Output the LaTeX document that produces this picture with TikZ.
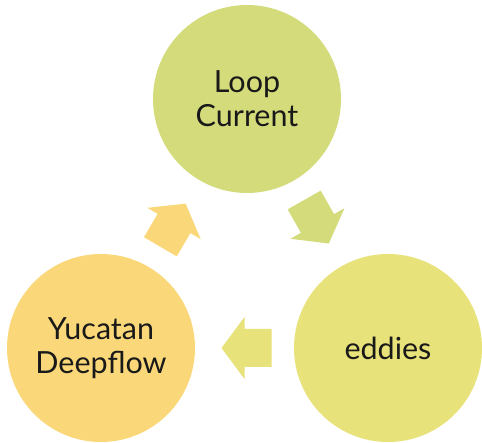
\documentclass[tikz,border=0pt]{standalone}
\usepackage{fontspec}
\setmainfont{Lato}
\usetikzlibrary{calc}
\definecolor{cTop}{RGB}{211,219,122}
\definecolor{cRight}{RGB}{232,226,122}
\definecolor{cLeft}{RGB}{250,216,122}
\tikzset{
  bubble/.style={circle, minimum size=188pt, inner sep=0pt, align=center,
    font=\fontsize{30.5}{34}\selectfont, text=black!90},
}
\newcommand\blkarrow[3]{%
  \coordinate (m) at ($(#2)!0.5!(#3)$);
  \coordinate (bk) at ($(m)!-27pt!(#3)$);
  \fill[#1] ($(m)!23pt!(#3)$)
    -- ($(m)!31pt!90:(#3)$)
    -- ($(m)!19pt!90:(#3)$)
    -- ($(bk)!19pt!90:(#3)$)
    -- ($(bk)!19pt!-90:(#3)$)
    -- ($(m)!19pt!-90:(#3)$)
    -- ($(m)!31pt!-90:(#3)$)
    -- cycle;
}
\begin{document}
\begin{tikzpicture}[x=1pt,y=-1pt]
\useasboundingbox (0,0) rectangle (482,443);
\node[bubble, fill=cTop] (loop) at (247,99) {Loop\\Current};
\node[bubble, fill=cRight] (eddies) at (388,348) {eddies};
\node[bubble, fill=cLeft] (yuc) at (101,348) {Yucatan\\Deepflow};
\blkarrow{cTop}{loop}{eddies}
\blkarrow{cRight}{eddies}{yuc}
\blkarrow{cLeft}{yuc}{loop}
\end{tikzpicture}
\end{document}
